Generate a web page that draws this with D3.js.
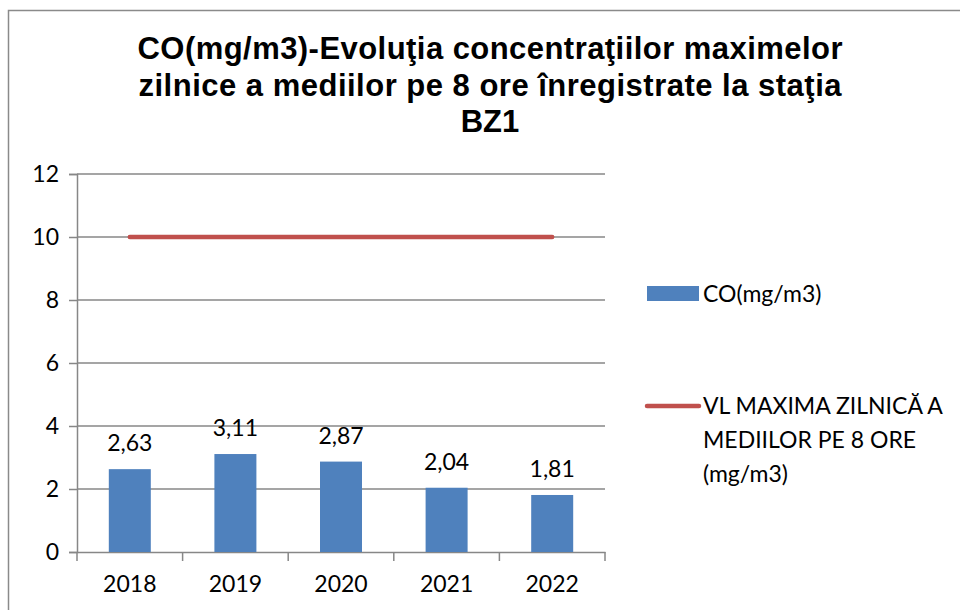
<!DOCTYPE html>
<html><head><meta charset="utf-8">
<script src="https://cdn.jsdelivr.net/npm/d3@7"></script>
<style>body{margin:0;background:#fff}svg{display:block}</style>
</head><body>
<svg id="c" width="960" height="610"></svg>
<script>
const years = ["2018","2019","2020","2021","2022"];
const coValues = [2.63, 3.11, 2.87, 2.04, 1.81];
const limitValues = [10, 10, 10, 10, 10];
const yTicks = [0, 2, 4, 6, 8, 10, 12];
const titleLines = ["CO(mg/m3)-Evoluţia concentraţiilor maximelor", "zilnice a mediilor pe 8 ore înregistrate la staţia", "BZ1"];
const legendCO = "CO(mg/m3)";
const legendVL = ["VL MAXIMA ZILNICĂ A", "MEDIILOR PE 8 ORE", "(mg/m3)"];

const svg = d3.select("#c");
const font = "Lato, 'Open Sans', sans-serif";
const fs = 23;
const grid = "#878787";

svg.append("rect").attr("x",8.5).attr("y",10.5).attr("width",960).attr("height",620)
  .attr("fill","#fff").attr("stroke","#8a8a8a").attr("stroke-width",1.5);

const xb = d3.scaleBand().domain(years).range([77,605]);
const y = d3.scaleLinear().domain([0,12]).range([552,174]);

// gridlines
svg.append("g").selectAll("line").data(yTicks.filter(d=>d>0)).join("line")
  .attr("x1",77).attr("x2",605).attr("y1",d=>y(d)).attr("y2",d=>y(d))
  .attr("stroke",grid).attr("stroke-width",1.5);

// y axis
const yAxis = svg.append("g").attr("transform","translate(77,0)")
  .call(d3.axisLeft(y).tickValues(yTicks).tickSize(8).tickPadding(10));
yAxis.select(".domain").attr("stroke",grid).attr("stroke-width",1.5);
yAxis.selectAll(".tick line").attr("stroke",grid).attr("stroke-width",1.5);
yAxis.selectAll("text").attr("font-family",font).attr("font-size",fs).attr("fill","#000");

// x axis
const xAxis = svg.append("g").attr("transform","translate(0,552)")
  .call(d3.axisBottom(xb).tickSize(0).tickPadding(24));
xAxis.select(".domain").attr("stroke",grid).attr("stroke-width",1.5);
xAxis.selectAll("text").attr("font-family",font).attr("font-size",fs).attr("fill","#000");
svg.append("g").selectAll("line").data(years.concat(["end"])).join("line")
  .attr("x1",(d,i)=>77+i*xb.step()).attr("x2",(d,i)=>77+i*xb.step())
  .attr("y1",552).attr("y2",561).attr("stroke",grid).attr("stroke-width",1.5);

// bars
svg.append("g").selectAll("rect").data(coValues).join("rect")
  .attr("x",(d,i)=>xb(years[i])+xb.bandwidth()/2-21).attr("width",42)
  .attr("y",d=>y(d)).attr("height",d=>552-y(d)).attr("fill","#4F81BD");

// labels
svg.append("g").selectAll("text").data(coValues).join("text")
  .attr("x",(d,i)=>xb(years[i])+xb.bandwidth()/2).attr("y",d=>y(d)-18)
  .attr("text-anchor","middle").attr("font-family",font).attr("font-size",fs)
  .text(d=>d.toFixed(2).replace(".",","));

// limit line
const line = d3.line().x((d,i)=>xb(years[i])+xb.bandwidth()/2).y(d=>y(d));
svg.append("path").datum(limitValues).attr("d",line).attr("fill","none")
  .attr("stroke","#C0504D").attr("stroke-width",4.5).attr("stroke-linecap","round");

// title
const tLen = [705, 703, null];
svg.append("g").selectAll("text").data(titleLines).join("text")
  .attr("x",490).attr("y",(d,i)=>59+i*36.5).attr("text-anchor","middle")
  .attr("font-family","'Liberation Sans', Arial, sans-serif").attr("font-weight","bold")
  .attr("font-size",31)
  .each(function(d,i){ if(tLen[i]) d3.select(this).attr("textLength",tLen[i]).attr("lengthAdjust","spacing"); })
  .text(d=>d);

// legend
svg.append("rect").attr("x",647).attr("y",286).attr("width",52).attr("height",15).attr("fill","#4F81BD");
svg.append("text").attr("x",703).attr("y",302).attr("font-family",font).attr("font-size",fs).text(legendCO);
svg.append("line").attr("x1",647).attr("x2",699).attr("y1",406).attr("y2",406)
  .attr("stroke","#C0504D").attr("stroke-width",4.5).attr("stroke-linecap","round");
svg.append("g").selectAll("text").data(legendVL).join("text")
  .attr("x",703).attr("y",(d,i)=>414+i*34).attr("font-family",font).attr("font-size",fs).text(d=>d);
</script>
</body></html>
